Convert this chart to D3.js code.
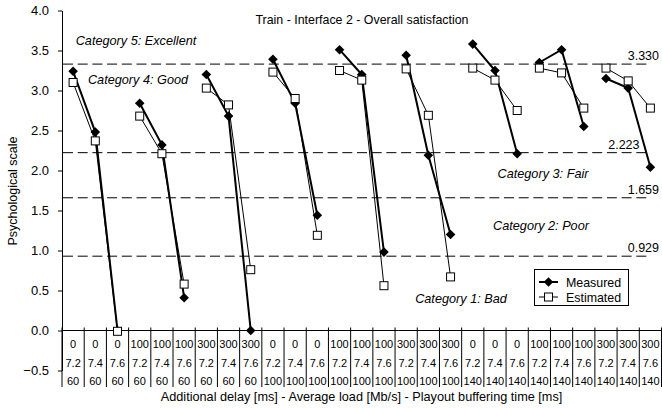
<!DOCTYPE html>
<html>
<head>
<meta charset="utf-8">
<script src="https://cdn.jsdelivr.net/npm/d3@7"></script>
<style>
  body { margin: 0; background: #fff; }
  text { font-family: "Liberation Sans", Arial, sans-serif; fill: #000; }
</style>
</head>
<body>
<svg id="chart" width="662" height="408"></svg>
<script>
// Test conditions, one column per condition (three label rows under the axis)
const delays  = ["0","0","0","100","100","100","300","300","300",
                 "0","0","0","100","100","100","300","300","300",
                 "0","0","0","100","100","100","300","300","300"];
const loads   = ["7.2","7.4","7.6","7.2","7.4","7.6","7.2","7.4","7.6",
                 "7.2","7.4","7.6","7.2","7.4","7.6","7.2","7.4","7.6",
                 "7.2","7.4","7.6","7.2","7.4","7.6","7.2","7.4","7.6"];
const buffers = ["60","60","60","60","60","60","60","60","60",
                 "100","100","100","100","100","100","100","100","100",
                 "140","140","140","140","140","140","140","140","140"];

// Psychological scale values per condition
const measured  = [3.24, 2.48, 0.00,  2.84, 2.32, 0.41,  3.20, 2.68, 0.00,
                   3.39, 2.84, 1.44,  3.51, 3.20, 0.98,  3.44, 2.19, 1.20,
                   3.58, 3.25, 2.21,  3.35, 3.51, 2.55,  3.15, 3.03, 2.04];
const estimated = [3.10, 2.37, -0.01, 2.68, 2.21, 0.58,  3.03, 2.82, 0.76,
                   3.23, 2.90, 1.19,  3.25, 3.13, 0.56,  3.27, 2.69, 0.67,
                   3.28, 3.13, 2.75,  3.28, 3.22, 2.78,  3.28, 3.12, 2.78];

// Category boundaries and their names
const thresholds = [3.330, 2.223, 1.659, 0.929];
const categoryNames = ["Category 5: Excellent", "Category 4: Good", "Category 3: Fair",
                       "Category 2: Poor", "Category 1: Bad"];
const yTicks = [-0.5, 0, 0.5, 1, 1.5, 2, 2.5, 3, 3.5, 4];

const svg = d3.select("#chart");
const groupSize = 3;
const idx = d3.range(delays.length);

const x = d3.scaleBand().domain(idx).range([62, 661.5]).padding(0);
const y = d3.scaleLinear().domain([-0.5, 4]).range([370.5, 10.5]);
const cx = i => x(i) + x.bandwidth() / 2;

// Title
svg.append("text").attr("x", 362).attr("y", 23.5).attr("text-anchor", "middle")
  .style("font-size", "12.4px").text("Train - Interface 2 - Overall satisfaction");

// Y axis
const yAxis = svg.append("g").attr("transform", "translate(62,0)")
  .call(d3.axisLeft(y).tickValues(yTicks).tickFormat(d3.format(".1f"))
        .tickSize(4).tickSizeOuter(0).tickPadding(9));
yAxis.selectAll("text").style("font-size", "13px").style("font-family", "Liberation Sans, Arial, sans-serif");
yAxis.selectAll("line, path").attr("stroke", "#000");

svg.append("text")
  .attr("transform", "translate(17,191) rotate(-90)")
  .attr("text-anchor", "middle").style("font-size", "12.5px")
  .text("Psychological scale");

// Category axis at zero with per-condition separators
const y0 = y(0);
svg.append("line").attr("x1", 62).attr("x2", 662).attr("y1", y0).attr("y2", y0)
  .attr("stroke", "#000").attr("stroke-width", 1);
const edges = idx.map(i => x(i)).concat([x.range()[1]]);
svg.append("g").selectAll("line").data(edges).join("line")
  .attr("x1", d => d).attr("x2", d => d)
  .attr("y1", y0 - 3).attr("y2", 387)
  .attr("stroke", "#000").attr("stroke-width", 1);

const rows = [[delays, 344], [loads, 363], [buffers, 381]];
rows.forEach(([labels, yc]) => {
  svg.append("g").selectAll("text").data(idx).join("text")
    .attr("x", i => cx(i)).attr("y", yc + 4)
    .attr("text-anchor", "middle").style("font-size", "11px")
    .text(i => labels[i]);
});

svg.append("text").attr("x", 361.5).attr("y", 401).attr("text-anchor", "middle")
  .style("font-size", "12.7px")
  .text("Additional delay [ms] - Average load [Mb/s] - Playout buffering time [ms]");

// Category boundaries
svg.append("g").selectAll("line").data(thresholds).join("line")
  .attr("x1", 63).attr("x2", 651)
  .attr("y1", d => y(d)).attr("y2", d => y(d))
  .attr("stroke", "#000").attr("stroke-width", 1)
  .attr("stroke-dasharray", "10,4.7");

const thrLabelX = [659, 639.5, 659, 659];
svg.append("g").selectAll("text").data(thresholds).join("text")
  .attr("x", (d, i) => thrLabelX[i]).attr("y", d => y(d) - 4)
  .attr("text-anchor", "end").style("font-size", "12.5px")
  .text(d => d3.format(".3f")(d));

// Category names
const catPos = [[136, 45], [138, 83.5], [543, 178], [541, 230], [461, 302.5]];
svg.append("g").selectAll("text").data(categoryNames).join("text")
  .attr("x", (d, i) => catPos[i][0]).attr("y", (d, i) => catPos[i][1])
  .attr("text-anchor", "middle").style("font-size", "12.7px").style("font-style", "italic")
  .text(d => d);

// Series
const diamond = "M0,-4.8L4.8,0L0,4.8L-4.8,0Z";
const line = d3.line().x(d => cx(d.i)).y(d => y(d.v));
const groups = d3.range(delays.length / groupSize);

function drawSeries(values, width, marker) {
  const g = svg.append("g");
  groups.forEach(k => {
    const pts = d3.range(groupSize).map(j => ({ i: k * groupSize + j, v: values[k * groupSize + j] }));
    g.append("path").attr("d", line(pts)).attr("fill", "none")
      .attr("stroke", "#000").attr("stroke-width", width);
  });
  const m = g.selectAll(".m").data(idx).join("g")
    .attr("transform", i => `translate(${cx(i)},${y(values[i])})`);
  marker(m);
}

drawSeries(measured, 2, m => m.append("path").attr("d", diamond).attr("fill", "#000"));
drawSeries(estimated, 1, m => m.append("rect").attr("x", -4).attr("y", -4)
  .attr("width", 8).attr("height", 8).attr("fill", "#fff").attr("stroke", "#000").attr("stroke-width", 1));

// Legend
const lg = svg.append("g");
lg.append("rect").attr("x", 534.5).attr("y", 269.5).attr("width", 94).attr("height", 36)
  .attr("fill", "#fff").attr("stroke", "#000").attr("stroke-width", 1);
const items = [
  { name: "Measured", yc: 282, w: 2, mark: s => s.append("path").attr("d", diamond).attr("fill", "#000") },
  { name: "Estimated", yc: 297, w: 1, mark: s => s.append("rect").attr("x", -4).attr("y", -4)
      .attr("width", 8).attr("height", 8).attr("fill", "#fff").attr("stroke", "#000") }
];
items.forEach(it => {
  lg.append("line").attr("x1", 539).attr("x2", 558).attr("y1", it.yc).attr("y2", it.yc)
    .attr("stroke", "#000").attr("stroke-width", it.w);
  it.mark(lg.append("g").attr("transform", `translate(548.5,${it.yc})`));
  lg.append("text").attr("x", 566).attr("y", it.yc + 4.5).style("font-size", "12.4px").text(it.name);
});
</script>
</body>
</html>
